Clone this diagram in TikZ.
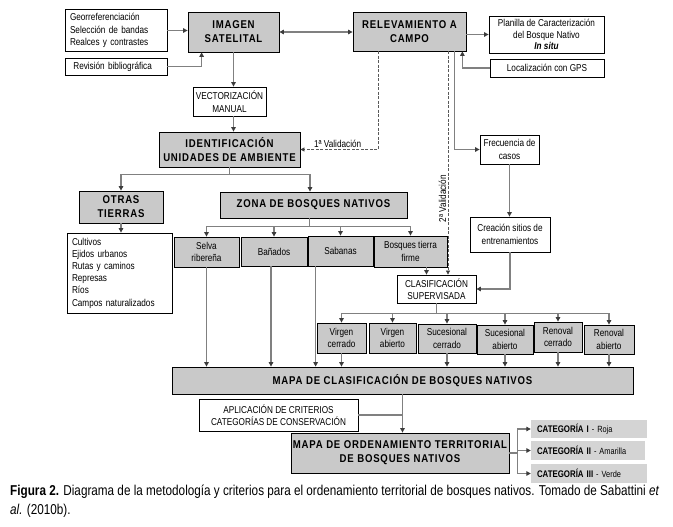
\documentclass[tikz,border=0pt]{standalone}
\usepackage{fontspec}
\setmainfont[FakeStretch=0.82]{Liberation Sans}
\newfontfamily\headfont[FakeStretch=0.85,LetterSpace=7]{Liberation Sans}
\usetikzlibrary{arrows.meta}
\definecolor{boxgray}{RGB}{201,201,201}
\definecolor{catgray}{RGB}{212,212,212}
\definecolor{linegray}{RGB}{128,128,128}
\definecolor{tipgray}{RGB}{60,60,60}
\definecolor{dashgray}{RGB}{90,90,90}
\tikzset{
  boxsize/.style 2 args={minimum width=#1, minimum height=#2},
  graybox/.style={draw=black, fill=boxgray, line width=0.8pt, align=center, inner sep=1pt, font=\headfont\bfseries\fontsize{11.3}{14}\selectfont},
  grayitem/.style={draw=black, fill=boxgray, line width=0.8pt, align=center, inner sep=1pt, font=\fontsize{10}{12.5}\selectfont},
  whitebox/.style={draw=black, fill=white, line width=0.8pt, align=center, inner sep=1pt, font=\fontsize{10}{12.5}\selectfont},
  listbox/.style={draw=black, fill=white, line width=0.8pt, align=left, inner xsep=5pt, font=\fontsize{10}{12.8}\selectfont},
  catbox/.style={fill=catgray, align=left, inner xsep=6pt, inner ysep=0pt, font=\fontsize{9}{9}\selectfont},
  link/.style={draw=linegray, line width=1.4pt, -{Triangle[length=4.5pt,width=4.5pt,color=tipgray]}},
  bothlink/.style={link, {Triangle[length=4.5pt,width=4.5pt,color=tipgray]}-{Triangle[length=4.5pt,width=4.5pt,color=tipgray]}},
  plainlink/.style={draw=linegray, line width=1.4pt},
  validlink/.style={draw=dashgray, line width=0.7pt, dash pattern=on 3pt off 1.5pt, -{Triangle[length=4pt,width=4pt,color=tipgray]}},
  validtext/.style={font=\fontsize{10}{11}\selectfont, inner sep=1.5pt}
}

\begin{document}
\begin{tikzpicture}[x=1pt,y=-1pt]
  \useasboundingbox (0,0) rectangle (673,527);
  % top row
  \node[listbox, boxsize={102}{39}, text width=92] (georr) at (116,30.5)
    {Georreferenciación\\Selección de bandas\\Realces y contrastes};
  \node[listbox, boxsize={102}{17}, text width=92, inner ysep=1pt] (revis) at (116,66.5) {\ Revisión bibliográfica};
  \node[graybox, boxsize={91}{40}] (imagen) at (233.5,32) {IMAGEN\\SATELITAL};
  \node[graybox, boxsize={113}{39}] (relev) at (409.5,31.5) {RELEVAMIENTO A\\CAMPO};
  \node[whitebox, boxsize={115}{37}, font=\fontsize{10}{11.5}\selectfont] (planilla) at (546.5,34.5)
    {Planilla de Caracterización\\del Bosque Nativo\\\textbf{\textit{In situ}}};
  \node[whitebox, boxsize={114}{18}] (gps) at (547,68) {Localización con GPS};
  \node[whitebox, boxsize={73}{29}] (vector) at (229.5,101.5) {VECTORIZACIÓN\\MANUAL};
  \node[graybox, boxsize={141}{35}] (ident) at (229.5,149.5) {IDENTIFICACIÓN\\UNIDADES DE AMBIENTE};
  % middle
  \node[graybox, boxsize={84}{32}] (otras) at (121,207) {OTRAS\\TIERRAS};
  \node[graybox, boxsize={187}{26}] (zona) at (313.5,205) {ZONA DE BOSQUES NATIVOS};
  \node[listbox, boxsize={105}{80}, text width=95, font=\fontsize{10}{12.2}\selectfont] (usos) at (119.5,273)
    {Cultivos\\Ejidos urbanos\\Rutas y caminos\\Represas\\Ríos\\Campos naturalizados};
  \node[grayitem, boxsize={65}{30}] (selva) at (206.5,252) {Selva\\ribereña};
  \node[grayitem, boxsize={66}{29}] (banados) at (274,251.5) {Bañados};
  \node[grayitem, boxsize={65}{30}] (sabanas) at (340.5,251) {Sabanas};
  \node[grayitem, boxsize={73}{31}] (bosques) at (410.5,251.5) {Bosques tierra\\firme};
  \node[whitebox, boxsize={79}{28}] (clasif) at (436.5,289) {CLASIFICACIÓN\\SUPERVISADA};
  \node[whitebox, boxsize={59}{29}] (frec) at (509.5,149.5) {Frecuencia de\\casos};
  \node[whitebox, boxsize={80}{35}] (creac) at (510,234.5) {Creación sitios de\\entrenamientos};
  % classes
  \node[grayitem, boxsize={49}{30}] (vc) at (341.5,338) {Virgen\\cerrado};
  \node[grayitem, boxsize={47}{30}] (va) at (392.5,338) {Virgen\\abierto};
  \node[grayitem, boxsize={58}{29}] (sc) at (447,338.5) {Sucesional\\cerrado};
  \node[grayitem, boxsize={56}{29}] (sa) at (505,339.5) {Sucesional\\abierto};
  \node[grayitem, boxsize={48}{30}] (rc) at (558,337) {Renoval\\cerrado};
  \node[grayitem, boxsize={50}{29}] (ra) at (609,339.5) {Renoval\\abierto};
  % bottom
  \node[graybox, boxsize={461}{27}] (mapa) at (402.5,380.5) {MAPA DE CLASIFICACIÓN DE BOSQUES NATIVOS};
  \node[whitebox, boxsize={159}{32}] (aplic) at (278.5,415) {APLICACIÓN DE CRITERIOS\\CATEGORÍAS DE CONSERVACIÓN};
  \node[graybox, boxsize={218}{40}] (orden) at (400,453) {MAPA DE ORDENAMIENTO TERRITORIAL\\DE BOSQUES NATIVOS};
  \node[catbox, boxsize={116}{18}, text width=104] (cat1) at (589,429) {\textbf{\fontsize{9.6}{9}\selectfont CATEGORÍA I} - Roja};
  \node[catbox, boxsize={114}{19}, text width=102] (cat2) at (588,450.5) {\textbf{\fontsize{9.6}{9}\selectfont CATEGORÍA II} - Amarilla};
  \node[catbox, boxsize={116}{19}, text width=104] (cat3) at (589,473.5) {\textbf{\fontsize{9.6}{9}\selectfont CATEGORÍA III} - Verde};
  \node[anchor=north west, align=left, inner sep=0pt, font=\fontsize{14.3}{19}\selectfont] (caption) at (10,485)
    {\textbf{Figura 2.} Diagrama de la metodología y criterios para el ordenamiento territorial de bosques nativos. Tomado de Sabattini \textit{et}\\\textit{al.} (2010b).};

  % connectors
  \coordinate (rv) at ([xshift=14pt]imagen.south west);
  \coordinate (gp) at ([xshift=-4pt]relev.south east);
  \coordinate (v1) at ([xshift=-31.5pt]relev.south);
  \coordinate (v2) at ([xshift=11.5pt]clasif.north);
  \coordinate (fq) at ([xshift=-12pt]relev.south east);
  \coordinate (bt) at ([xshift=16pt]bosques.south);
  \draw[link] (georr.east) -- (georr.east -| imagen.west);
  \draw[link] (revis.east) -| (rv);
  \draw[bothlink] (imagen.east) -- (imagen.east -| relev.west);
  \draw[link] (relev.east |- planilla.west) -- (planilla.west);
  \draw[link] (gps.west) -| (gp);
  \draw[link] (imagen.south) -- (imagen.south |- vector.north);
  \draw[link] (imagen.south |- vector.south) -- (imagen.south |- ident.north);
  \draw[validlink] (v1) |- (ident.east) node[validtext, pos=0.76, above] {1ª Validación};
  \draw[validlink] (relev.south -| v2) -- (v2) node[validtext, pos=0.66, rotate=90, anchor=south] {2ª Validación};
  \draw[link] (fq) |- (frec.west);
  \draw[link] (frec.south) -- (frec.south |- creac.north);
  \draw[link] (creac.south) |- (clasif.east);
  \draw[link] (ident.south) -- ++(0,7) -| (otras.north);
  \draw[link] (ident.south) -- ++(0,7) -| ([xshift=-3.5pt]zona.north);
  \draw[link] (otras.south) -- (otras.south |- usos.north);
  \foreach \n in {selva,banados,sabanas,bosques}
    \draw[link] ([xshift=-4pt]zona.south) -- ++(0,8) -| (\n.north);
  \draw[link] (bt) -- (bt |- clasif.north);
  \foreach \n in {vc,va,sc,sa,rc,ra}
    \draw[link] (clasif.south) -- ++(0,10) -| (\n.north);
  \draw[link] (selva.south) -- (selva.south |- mapa.north);
  \draw[link] ([xshift=-3pt]banados.south) -- ([xshift=-3pt]banados.south |- mapa.north);
  \draw[link] ([xshift=8pt]sabanas.south west) -- ([xshift=8pt]sabanas.south west |- mapa.north);
  \foreach \n in {vc,sc,sa,rc,ra}
    \draw[link] (\n.south) -- (\n.south |- mapa.north);
  \draw[link] (mapa.south) -- (mapa.south |- orden.north);
  \draw[plainlink] (aplic.east) -- (aplic.east -| mapa.south);
  \foreach \n in {cat1,cat2,cat3}
    \draw[link] (orden.east) -- ++(8,0) |- (\n.west);
\end{tikzpicture}
\end{document}
